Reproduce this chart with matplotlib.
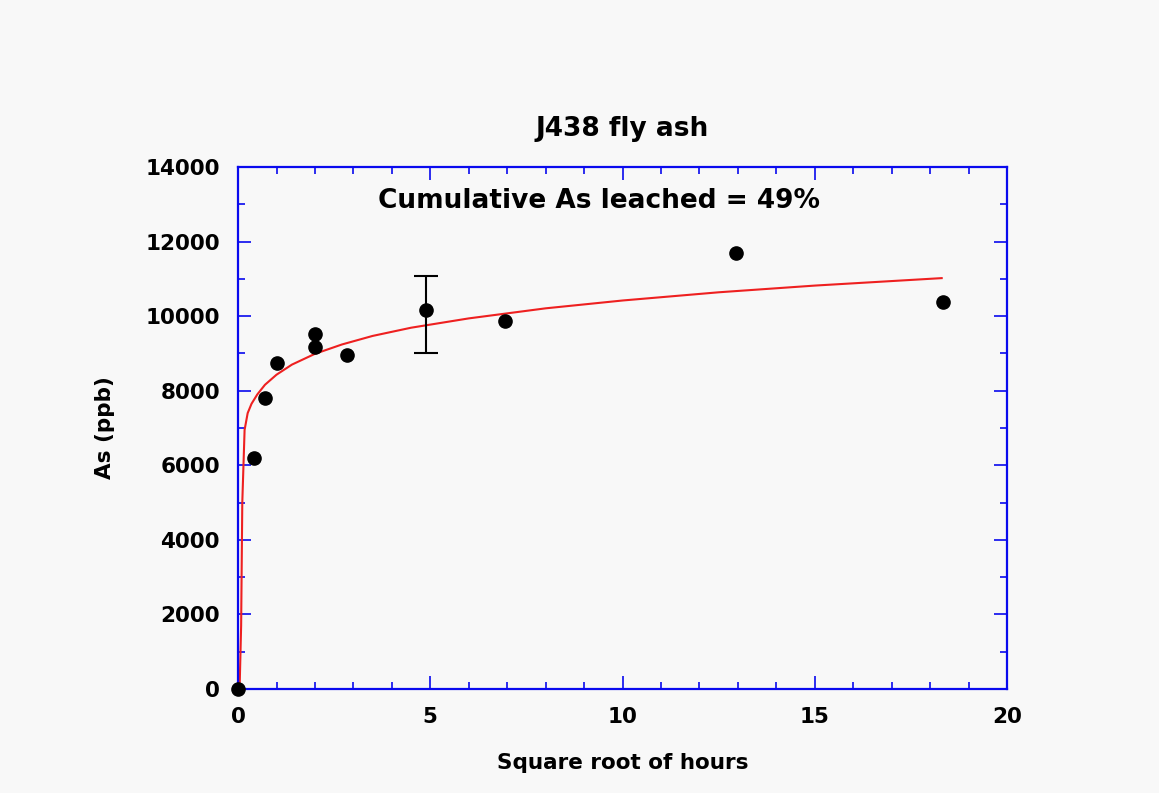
import numpy as np
import matplotlib
matplotlib.use("Agg")
import matplotlib.pyplot as plt
from matplotlib.ticker import MultipleLocator

# measured points (square root of hours vs As in ppb)
sqrt_hours = [0.0, 0.41, 0.71, 1.0, 2.0, 2.0, 2.83, 4.9, 6.93, 12.96, 18.33]
as_ppb = [0, 6200, 7800, 8740, 9520, 9170, 8950, 10160, 9870, 11690, 10380]

# error bar on the 4.9 point
err_x = [4.9]
err_y = [10160]
err_low = [1160]
err_high = [910]

# fitted curve
fit_x = [0.04, 0.08, 0.11, 0.17, 0.25, 0.35, 0.5, 0.7, 1.0, 1.4, 2.0, 2.7,
         3.5, 4.5, 6.0, 8.0, 10.0, 12.5, 15.0, 18.3]
fit_y = [0, 1700, 5000, 6950, 7400, 7650, 7900, 8160, 8430, 8700, 8990, 9240,
         9470, 9690, 9940, 10210, 10420, 10640, 10820, 11020]

title = "J438 fly ash"
note = "Cumulative As leached = 49%"

bg = "#f8f8f8"
blue = "#0a0aee"

fig = plt.figure(figsize=(11.59, 7.93), dpi=100, facecolor=bg)
ax = fig.add_axes([0.2054, 0.1311, 0.6635, 0.6583], facecolor=bg)

ax.plot(fit_x, fit_y, color="#ee2020", lw=1.5, zorder=2)
ax.errorbar(err_x, err_y, yerr=[err_low, err_high], fmt="none", ecolor="black",
            elinewidth=1.5, capsize=8.5, capthick=1.5, zorder=3)
ax.plot(sqrt_hours, as_ppb, "o", color="black", ms=9.5, zorder=4, clip_on=False)

ax.set_xlim(0, 20)
ax.set_ylim(0, 14000)
ax.xaxis.set_major_locator(MultipleLocator(5))
ax.xaxis.set_minor_locator(MultipleLocator(1))
ax.yaxis.set_major_locator(MultipleLocator(2000))
ax.yaxis.set_minor_locator(MultipleLocator(1000))

for side in ax.spines.values():
    side.set_color(blue)
    side.set_linewidth(1.6)

ax.tick_params(which="both", direction="in", top=True, right=True, color=blue)
ax.tick_params(which="major", length=9.5, width=1.2, labelsize=15.5, pad=13)
ax.tick_params(which="minor", length=5, width=1.2)
for lbl in ax.get_xticklabels() + ax.get_yticklabels():
    lbl.set_fontweight("bold")

ax.set_xlabel("Square root of hours", fontsize=15.5, fontweight="bold", labelpad=19)
ax.set_ylabel("As (ppb)", fontsize=15.5, fontweight="bold", labelpad=22)
ax.set_title(title, fontsize=19, fontweight="bold", pad=22)
ax.text(0.47, 0.935, note, transform=ax.transAxes, ha="center", va="center",
        fontsize=19, fontweight="bold")

fig.savefig("out.png", dpi=100, facecolor=bg)
